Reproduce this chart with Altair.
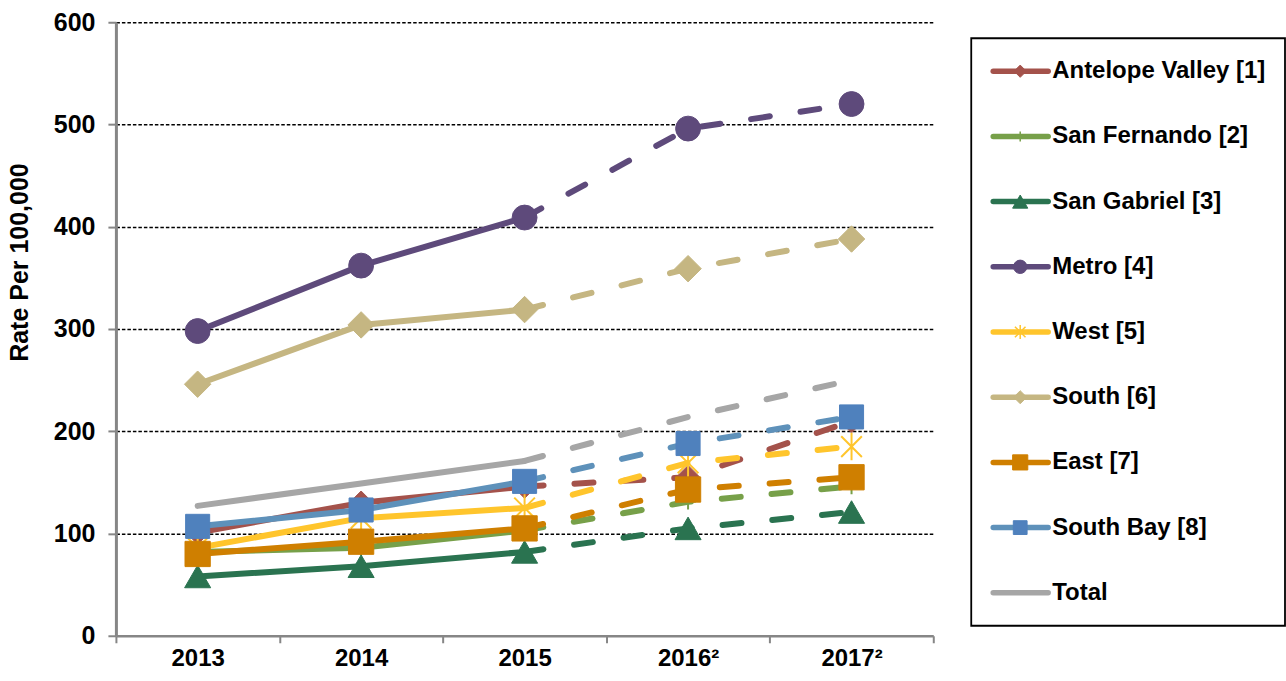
import altair as alt
import pandas as pd

# Rates per 100,000 by Service Planning Area
years = ["2013", "2014", "2015", "2016²", "2017²"]
series_names = [
    "Antelope Valley [1]", "San Fernando [2]", "San Gabriel [3]", "Metro [4]",
    "West [5]", "South [6]", "East [7]", "South Bay [8]", "Total",
]

antelope_valley = [101, 130, 146, 155, 210]
san_fernando = [82, 86, 103, 131, 146]
san_gabriel = [58, 68, 82, 105, 121]
metro = [298, 362, 409, 496, 520]
west = [86, 115, 125, 169, 185]
south = [246, 304, 319, 359, 388]
east = [80, 92, 105, 143, 155]
south_bay = [107, 123, 151, 188, 214]
total = [127, 149, 171, 214, 250]

series_values = [antelope_valley, san_fernando, san_gabriel, metro, west,
                 south, east, south_bay, total]

# last observed year; later years are projections drawn dashed
last_actual = 2

rows = []
for name, vals in zip(series_names, series_values):
    for i, v in enumerate(vals):
        rows.append({"series": name, "idx": i, "year": years[i], "rate": v})
df = pd.DataFrame(rows)
legend_df = pd.DataFrame({"series": series_names})

PLUS = "M-1,0L1,0M0,-1L0,1"
STAR = "M-0.75,-0.75L0.75,0.75M-0.75,0.75L0.75,-0.75M0,-1L0,1"

styles = {
    "Antelope Valley [1]": dict(line="#A4524B", fill="#A4524B", shape="diamond", size=560, filled=True, lsize=150),
    "San Fernando [2]": dict(line="#77A049", fill="#77A049", shape=PLUS, size=240, filled=False, lsize=100),
    "San Gabriel [3]": dict(line="#2A7350", fill="#2A7350", shape="triangle-up", size=680, filled=True, lsize=230),
    "Metro [4]": dict(line="#5E4A7B", fill="#5E4A7B", shape="circle", size=620, filled=True, lsize=180),
    "West [5]": dict(line="#FFC52C", fill="#FFC52C", shape=STAR, size=760, filled=False, lsize=200),
    "South [6]": dict(line="#C5B682", fill="#C5B682", shape="diamond", size=700, filled=True, lsize=170),
    "East [7]": dict(line="#CF7F00", fill="#CF7F00", shape="square", size=640, filled=True, lsize=230),
    "South Bay [8]": dict(line="#5E91BA", fill="#4F81BD", shape="square", size=580, filled=True, lsize=190),
    "Total": dict(line="#A6A6A6", fill=None, shape=None, size=0, filled=True, lsize=0),
}

FONT = "Liberation Sans"
AXIS_GRAY = "#868686"

label_list = "[" + ",".join("'" + y + "'" for y in years) + "]"
x_ticks = [i - 0.5 for i in range(len(years) + 1)] + list(range(len(years)))

x_enc = alt.X(
    "idx:Q",
    scale=alt.Scale(domain=[-0.5, len(years) - 0.5], nice=False, zero=False),
    axis=alt.Axis(
        values=x_ticks,
        labelExpr=f"datum.value % 1 === 0 ? {label_list}[datum.value] : ''",
        tickOpacity={"condition": {"test": "datum.value % 1 !== 0", "value": 1}, "value": 0},
        grid=False,
        domainColor=AXIS_GRAY, domainWidth=2.5,
        tickColor=AXIS_GRAY, tickWidth=2, tickSize=7,
        labelFont=FONT, labelFontSize=24, labelFontWeight="bold", labelColor="black",
        labelPadding=4, labelOverlap=False, labelFlush=False, title=None,
    ),
)

y_enc = alt.Y(
    "rate:Q",
    scale=alt.Scale(domain=[0, 600], nice=False),
    axis=alt.Axis(
        values=[0, 100, 200, 300, 400, 500, 600],
        grid=True, gridColor="black", gridDash=[3.5, 2], gridWidth=1.5,
        gridOpacity={"condition": {"test": "datum.value > 0", "value": 1}, "value": 0},
        domainColor=AXIS_GRAY, domainWidth=3,
        tickColor=AXIS_GRAY, tickWidth=2, tickSize=8,
        labelFont=FONT, labelFontSize=25, labelFontWeight="bold", labelColor="black",
        labelPadding=13,
        title="Rate Per 100,000", titleFont=FONT, titleFontSize=25,
        titleFontWeight="bold", titleColor="black", titlePadding=21, titleY=240,
    ),
)

base = alt.Chart(df)
layers = []
for name in series_names:
    st = styles[name]
    s = base.transform_filter(alt.datum.series == name)
    layers.append(
        s.transform_filter(alt.datum.idx <= last_actual)
        .mark_line(color=st["line"], strokeWidth=6, strokeCap="round", strokeJoin="round")
        .encode(x=x_enc, y=y_enc)
    )
    layers.append(
        s.transform_filter(alt.datum.idx >= last_actual)
        .mark_line(color=st["line"], strokeWidth=6, strokeCap="round", strokeJoin="round",
                   strokeDash=[19, 31])
        .encode(x=x_enc, y=y_enc)
    )
    if st["shape"] is not None:
        if st["filled"]:
            pt = s.mark_point(shape=st["shape"], size=st["size"], filled=True,
                              fill=st["fill"], stroke=st["fill"], strokeWidth=1, opacity=1)
        else:
            pt = s.mark_point(shape=st["shape"], size=st["size"], filled=False,
                              stroke=st["fill"], strokeWidth=2, opacity=1)
        layers.append(pt.encode(x=x_enc, y=y_enc))

plot = alt.layer(*layers).properties(width=818, height=614)

# legend panel
y_leg = alt.Y("series:N",
              scale=alt.Scale(type="point", domain=series_names, range=[49, 571], padding=0),
              axis=None)
leg_base = alt.Chart(legend_df)
frame = alt.Chart(pd.DataFrame({"k": [0]})).mark_rect(
    fill="white", stroke="black", strokeWidth=1.8
).encode(x=alt.value(0), x2=alt.value(314), y=alt.value(16), y2=alt.value(604))

leg_layers = [frame]
for name in series_names:
    st = styles[name]
    s = leg_base.transform_filter(alt.datum.series == name)
    leg_layers.append(
        s.mark_rule(color=st["line"], strokeWidth=5.5, strokeCap="round")
        .encode(x=alt.value(22), x2=alt.value(77), y=y_leg)
    )
    if st["shape"] is not None:
        if st["filled"]:
            lp = s.mark_point(shape=st["shape"], size=st["lsize"], filled=True,
                              fill=st["fill"], stroke=st["fill"], strokeWidth=1, opacity=1)
        else:
            lp = s.mark_point(shape=st["shape"], size=st["lsize"], filled=False,
                              stroke=st["fill"], strokeWidth=1.5, opacity=1)
        leg_layers.append(lp.encode(x=alt.value(49), y=y_leg))
leg_layers.append(
    leg_base.mark_text(align="left", baseline="middle", font=FONT, fontSize=24,
                       fontWeight="bold", color="black")
    .encode(x=alt.value(81), y=y_leg, text="series:N")
)
legend_panel = alt.layer(*leg_layers).properties(width=314, height=614)

chart = (
    alt.hconcat(plot, legend_panel, spacing=36)
    .properties(padding={"left": 7, "top": 10, "right": 0, "bottom": 0}, background="white")
    .configure_view(stroke=None)
)

chart.save("out.html", embed_options={"renderer": "svg", "actions": False})
